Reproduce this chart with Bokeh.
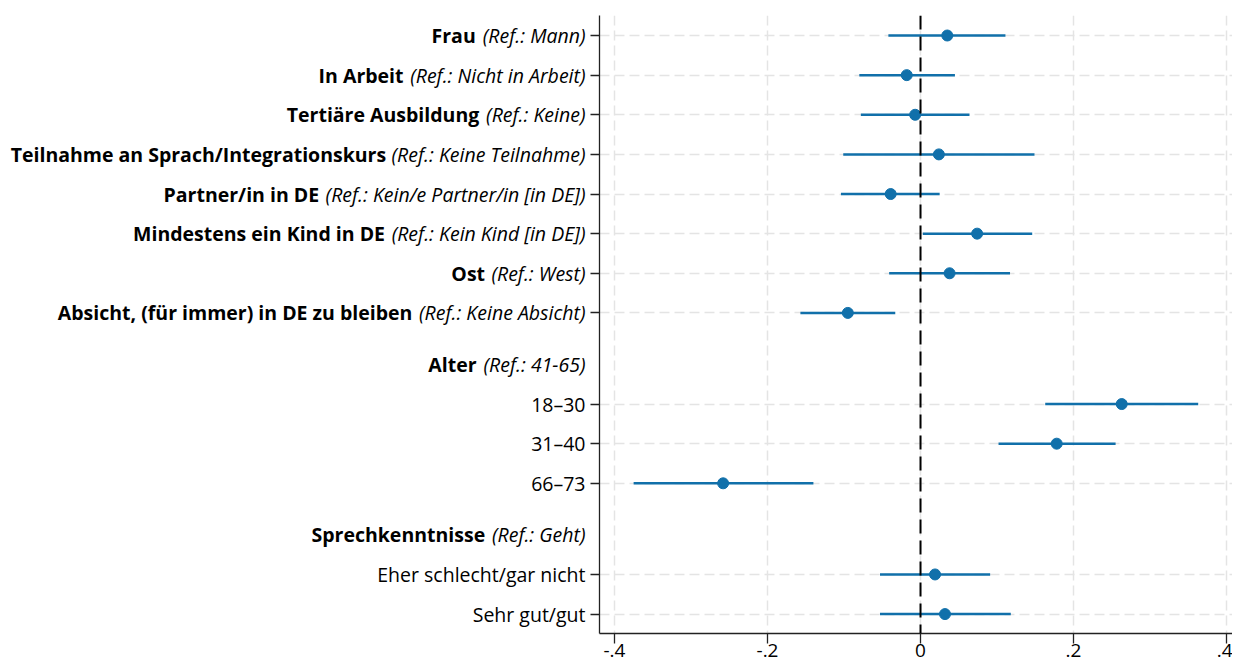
import glob
import os

from bokeh.core.properties import value
from bokeh.embed import file_html
from bokeh.layouts import row
from bokeh.models import (ColumnDataSource, CustomJSTickFormatter, FixedTicker,
                          Range1d, Span)
from bokeh.plotting import figure
from bokeh.resources import INLINE

# ---------------- data ----------------
main_labels = ["Frau", "In Arbeit", "Tertiäre Ausbildung",
               "Teilnahme an Sprach/Integrationskurs", "Partner/in in DE",
               "Mindestens ein Kind in DE", "Ost",
               "Absicht, (für immer) in DE zu bleiben"]
main_refs = ["(Ref.: Mann)", "(Ref.: Nicht in Arbeit)", "(Ref.: Keine)",
             "(Ref.: Keine Teilnahme)", "(Ref.: Kein/e Partner/in [in DE])",
             "(Ref.: Kein Kind [in DE])", "(Ref.: West)", "(Ref.: Keine Absicht)"]
main_coef = [0.035, -0.018, -0.007, 0.024, -0.039, 0.074, 0.038, -0.095]
main_lo = [-0.042, -0.080, -0.078, -0.101, -0.104, 0.003, -0.041, -0.157]
main_hi = [0.111, 0.045, 0.064, 0.149, 0.025, 0.146, 0.117, -0.033]

age_header = "Alter"
age_ref = "(Ref.: 41-65)"
age_levels = ["18–30", "31–40", "66–73"]
age_coef = [0.263, 0.178, -0.258]
age_lo = [0.163, 0.102, -0.375]
age_hi = [0.363, 0.255, -0.140]

lang_header = "Sprechkenntnisse"
lang_ref = "(Ref.: Geht)"
lang_levels = ["Eher schlecht/gar nicht", "Sehr gut/gut"]
lang_coef = [0.019, 0.032]
lang_lo = [-0.053, -0.053]
lang_hi = [0.091, 0.118]

x_ticks = [-0.4, -0.2, 0.0, 0.2, 0.4]
x_tick_labels = ["-.4", "-.2", "0", ".2", ".4"]

# ---------------- style / layout ----------------
FONT = "Open Sans"
BLUE = "#1170aa"
GRID = "#e4e4e4"
TOTAL_W, TOTAL_H = 1232, 669
LEFT_W = 589          # width of the label panel
AXIS_GAP = 10         # room for the y tick marks
TOP, BOTTOM = 15, 36
LABEL_PAD = 4         # gap between label text and tick marks
WORD_GAP_EXTRA = 2    # extra room between bold and italic parts
LONGEST_TARGET = 575  # pixel width of the longest label in the reference
TICK_FS = "19px"
GAP = 0.3

# ---------------- font measurement ----------------
def find_font(names):
    dirs = ["/usr/share/fonts", "/usr/local/share/fonts",
            os.path.expanduser("~/.fonts"), os.path.expanduser("~/.local/share/fonts")]
    for n in names:
        for d in dirs:
            hits = glob.glob(os.path.join(d, "**", n), recursive=True)
            if hits:
                return sorted(hits)[0]
    return None

try:
    from PIL import ImageFont
    _paths = {"normal": find_font(["OpenSans-Regular.ttf"]),
              "bold": find_font(["OpenSans-Bold.ttf"]),
              "italic": find_font(["OpenSans-Italic.ttf"])}
except Exception:
    ImageFont = None
    _paths = {"normal": None, "bold": None, "italic": None}

_fallback_factor = {"normal": 1.0, "bold": 1.07, "italic": 0.96}


def text_width(txt, style, size):
    path = _paths.get(style)
    if ImageFont is not None and path:
        return ImageFont.truetype(path, 40).getlength(txt) * size / 40.0
    reg = _paths.get("normal")
    if ImageFont is not None and reg:
        return ImageFont.truetype(reg, 40).getlength(txt) * size / 40.0 * \
            _fallback_factor[style]
    return len(txt) * size * 0.53 * _fallback_factor[style]


def label_width(bold, ital, size):
    return text_width(bold, "bold", size) + text_width(" ", "normal", size) + \
        text_width(ital, "italic", size)

_longest = max(range(len(main_labels)),
               key=lambda i: label_width(main_labels[i], main_refs[i], 20))
FS = round(20 * LONGEST_TARGET /
           label_width(main_labels[_longest], main_refs[_longest], 20) * 2) / 2
FS = max(15.0, min(FS, 21.0))
FSS = f"{FS}px"
SPACE = text_width(" ", "normal", FS) + WORD_GAP_EXTRA

# ---------------- rows ----------------
data_y, data_c, data_lo, data_hi = [], [], [], []
lab_y, lab_bold, lab_ital, lab_boff = [], [], [], []
reg_y, reg_txt = [], []

y = 0.0
for lab, ref, c, lo, hi in zip(main_labels, main_refs, main_coef, main_lo, main_hi):
    data_y.append(y); data_c.append(c); data_lo.append(lo); data_hi.append(hi)
    lab_y.append(y); lab_bold.append(lab); lab_ital.append(ref)
    lab_boff.append(-(LABEL_PAD + text_width(ref, "italic", FS) + SPACE))
    y += 1.0

for header, ref, levels, coefs, los, his in [
        (age_header, age_ref, age_levels, age_coef, age_lo, age_hi),
        (lang_header, lang_ref, lang_levels, lang_coef, lang_lo, lang_hi)]:
    y += GAP
    lab_y.append(y); lab_bold.append(header); lab_ital.append(ref)
    lab_boff.append(-(LABEL_PAD + text_width(ref, "italic", FS) + SPACE))
    y += 1.0
    for lev, c, lo, hi in zip(levels, coefs, los, his):
        data_y.append(y); data_c.append(c); data_lo.append(lo); data_hi.append(hi)
        reg_y.append(y); reg_txt.append(lev)
        y += 1.0

last_y = y - 1.0
X_START, X_END = -0.4196, 0.4078

y_range = Range1d(last_y + 0.49, -0.505)

data_src = ColumnDataSource(dict(y=data_y, coef=data_c, lo=data_lo, hi=data_hi))
lab_src = ColumnDataSource(dict(y=lab_y, x1=[1.0] * len(lab_y), bold=lab_bold,
                                ital=lab_ital, boff=lab_boff))
reg_src = ColumnDataSource(dict(y=reg_y, x1=[1.0] * len(reg_y), txt=reg_txt))

# ---------------- label panel ----------------
lp = figure(width=LEFT_W, height=TOTAL_H, output_backend="svg", toolbar_location=None,
            x_range=Range1d(0, 1), y_range=y_range,
            x_axis_location=None, y_axis_location=None,
            min_border_left=0, min_border_right=0, min_border_top=TOP,
            min_border_bottom=BOTTOM)
lp.outline_line_color = None
lp.grid.visible = False

common = dict(text_font=value(FONT), text_font_size=value(FSS), text_color="black",
              text_align="right", text_baseline="middle")
lp.text(x="x1", y="y", text="ital", source=lab_src, x_offset=-LABEL_PAD,
        text_font_style="italic", **common)
lp.text(x="x1", y="y", text="bold", source=lab_src, x_offset="boff",
        text_font_style="bold", **common)
lp.text(x="x1", y="y", text="txt", source=reg_src, x_offset=-LABEL_PAD, **common)

# ---------------- coefficient panel ----------------
p = figure(width=TOTAL_W - LEFT_W, height=TOTAL_H, output_backend="svg",
           toolbar_location=None, x_range=Range1d(X_START, X_END), y_range=y_range,
           min_border_left=AXIS_GAP, min_border_right=0, min_border_top=TOP,
           min_border_bottom=BOTTOM)
p.outline_line_color = None

p.xgrid.ticker = FixedTicker(ticks=x_ticks)
p.ygrid.ticker = FixedTicker(ticks=data_y)
for g in (p.xgrid, p.ygrid):
    g.grid_line_color = GRID
    g.grid_line_dash = "10 5"
    g.grid_line_width = 1.5

p.xaxis.ticker = FixedTicker(ticks=x_ticks)
p.xaxis.major_label_overrides = {t: s for t, s in zip(x_ticks, x_tick_labels)}
p.xaxis.major_label_text_font = FONT
p.xaxis.major_label_text_font_size = TICK_FS
p.xaxis.major_label_text_color = "black"
p.xaxis.major_label_standoff = 0
p.xaxis.major_tick_out = 10
p.xaxis.major_tick_in = 0
p.xaxis.minor_tick_line_color = None

p.yaxis.ticker = FixedTicker(ticks=data_y)
p.yaxis.formatter = CustomJSTickFormatter(code="return ''")
p.yaxis.major_label_standoff = 0
p.yaxis.major_tick_out = 9
p.yaxis.major_tick_in = 0
p.yaxis.minor_tick_line_color = None

for ax in (p.xaxis, p.yaxis):
    ax.axis_line_color = "#222222"
    ax.axis_line_width = 1.3
    ax.major_tick_line_color = "#222222"
    ax.major_tick_line_width = 1.3

p.segment(x0="lo", y0="y", x1="hi", y1="y", source=data_src,
          line_color=BLUE, line_width=2.5)
p.scatter(x="coef", y="y", source=data_src, size=11, fill_color=BLUE,
          line_color=BLUE)

p.add_layout(Span(location=0, dimension="height", line_color="black",
                  line_width=2, line_dash="14 7"))

layout = row(lp, p)
open("out.html", "w").write(file_html(layout, INLINE))
